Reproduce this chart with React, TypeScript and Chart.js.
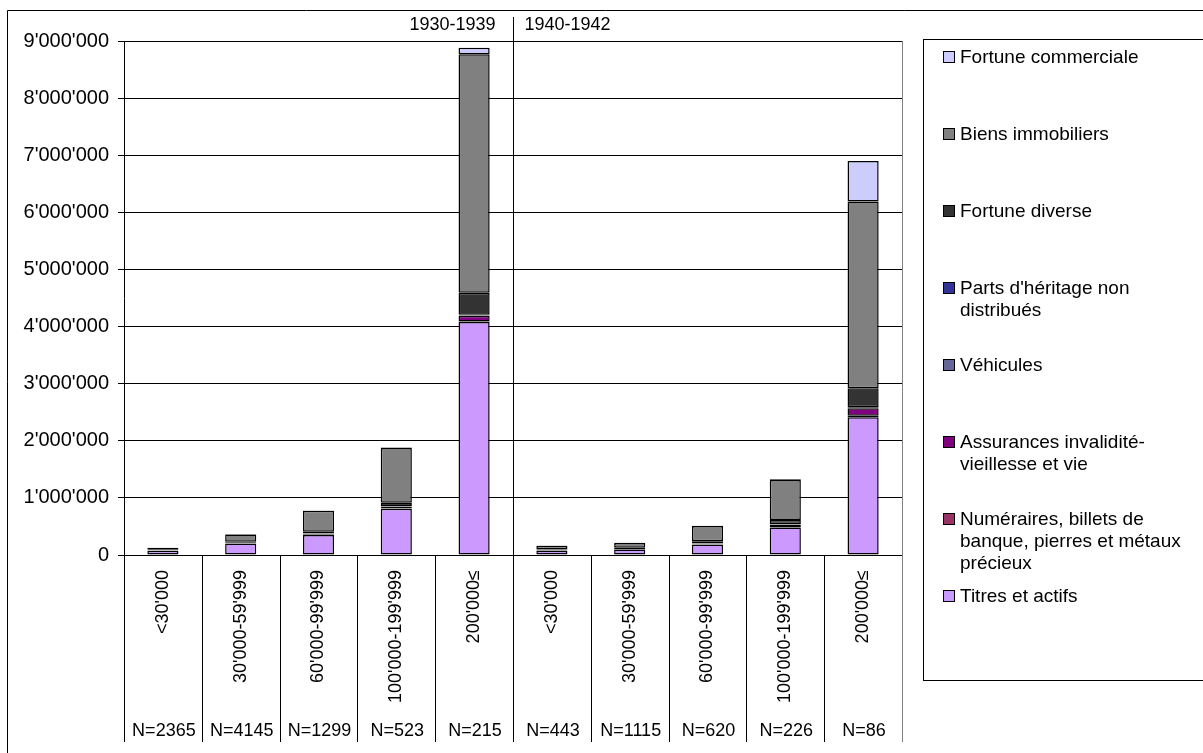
import React, { useEffect, useRef } from "react";
import { Chart, registerables } from "chart.js";

Chart.register(...registerables);

const CATEGORIES = [
  "<30'000", "30'000-59'999", "60'000-99'999", "100'000-199'999", "200'000≤",
  "<30'000", "30'000-59'999", "60'000-99'999", "100'000-199'999", "200'000≤",
];
const N_LABELS = ["N=2365", "N=4145", "N=1299", "N=523", "N=215", "N=443", "N=1115", "N=620", "N=226", "N=86"];
const PERIODS = ["1930-1939", "1940-1942"];
const Y_MAX = 9000000;
const Y_STEP = 1000000;

// stack order, bottom to top
const titres = [75000, 200000, 350000, 810000, 4080000, 80000, 95000, 185000, 480000, 2410000];
const numeraires = [3000, 5000, 8000, 10000, 10000, 3000, 3000, 5000, 10000, 30000];
const assurances = [3000, 8000, 15000, 30000, 100000, 2000, 5000, 8000, 45000, 130000];
const vehicules = [500, 1000, 2000, 3000, 5000, 500, 1000, 1000, 2000, 5000];
const parts = [1000, 2000, 3000, 5000, 10000, 1000, 1000, 2000, 3000, 10000];
const diverse = [10000, 15000, 30000, 55000, 385000, 10000, 20000, 40000, 75000, 335000];
const biens = [30000, 130000, 365000, 960000, 4180000, 65000, 85000, 265000, 700000, 3270000];
const commerciale = [3000, 5000, 5000, 10000, 110000, 5000, 5000, 5000, 10000, 710000];

const SERIES_NAMES = [
  "Titres et actifs",
  "Numéraires, billets de banque, pierres et métaux précieux",
  "Assurances invalidité-vieillesse et vie",
  "Véhicules",
  "Parts d'héritage non distribués",
  "Fortune diverse",
  "Biens immobiliers",
  "Fortune commerciale",
];
const SERIES_VALUES = [titres, numeraires, assurances, vehicules, parts, diverse, biens, commerciale];
const SERIES_COLORS = ["#CC99FF", "#993366", "#800080", "#666699", "#333399", "#333333", "#808080", "#CCCCFF"];

const FONT = "'Liberation Sans', Arial, sans-serif";
const W = 1203;
const H = 753;

const fmt = (v: number) => (v === 0 ? "0" : String(v).replace(/\B(?=(\d{3})+(?!\d))/g, "'"));

const decorPlugin = {
  id: "decor",
  afterDraw(chart: any) {
    const ctx = chart.ctx;
    const xs = chart.scales.x;
    const area = chart.chartArea;
    const n = CATEGORIES.length;
    const cw = (area.right - area.left) / n;
    const al = (v: number) => Math.round(v) + 0.5;
    ctx.save();
    ctx.lineWidth = 1;
    ctx.strokeStyle = "#000";
    // outer frame
    ctx.beginPath();
    ctx.moveTo(7.5, H);
    ctx.lineTo(7.5, 10.5);
    ctx.lineTo(W, 10.5);
    ctx.stroke();
    // category boundaries below axis
    ctx.beginPath();
    for (let i = 0; i < n; i++) {
      const x = al(xs.getPixelForValue(i) - cw / 2);
      ctx.moveTo(x, area.bottom);
      ctx.lineTo(x, 742);
    }
    ctx.stroke();
    // separator between periods
    const sep = al((xs.getPixelForValue(4) + xs.getPixelForValue(5)) / 2);
    ctx.beginPath();
    ctx.moveTo(sep, 17);
    ctx.lineTo(sep, 697);
    ctx.stroke();
    // right edge
    ctx.strokeStyle = "#808080";
    const rx = al(area.right);
    ctx.beginPath();
    ctx.moveTo(rx, area.top);
    ctx.lineTo(rx, 742);
    ctx.stroke();
    // texts
    ctx.fillStyle = "#000";
    ctx.font = `18px ${FONT}`;
    ctx.textBaseline = "middle";
    ctx.textAlign = "center";
    N_LABELS.forEach((t, i) => ctx.fillText(t, xs.getPixelForValue(i) + 1, 731));
    ctx.textAlign = "right";
    ctx.fillText(PERIODS[0], sep - 18, 25);
    ctx.textAlign = "left";
    ctx.fillText(PERIODS[1], sep + 11, 25);
    ctx.restore();
  },
};

export default function App() {
  const ref = useRef<HTMLCanvasElement>(null);
  useEffect(() => {
    if (!ref.current) return;
    Chart.defaults.font.family = FONT;
    Chart.defaults.font.size = 18;
    Chart.defaults.color = "#000";
    const chart = new Chart(ref.current, {
      type: "bar",
      data: {
        labels: CATEGORIES,
        datasets: SERIES_NAMES.map((name, i) => ({
          label: name,
          data: SERIES_VALUES[i],
          backgroundColor: SERIES_COLORS[i],
          borderColor: "#000",
          borderWidth: 1.5,
          borderSkipped: false,
          barPercentage: 0.4,
          categoryPercentage: 1,
        })),
      },
      options: {
        responsive: false,
        animation: false,
        devicePixelRatio: 1,
        layout: { padding: { left: 0, top: 41, right: W - 902, bottom: 0 } },
        plugins: { legend: { display: false }, tooltip: { enabled: false } },
        scales: {
          x: {
            stacked: true,
            grid: { display: false, drawTicks: false },
            border: { display: true, color: "#000", width: 1 },
            ticks: {
              autoSkip: false,
              minRotation: 90,
              maxRotation: 90,
              padding: 15,
              font: { size: 18, family: FONT },
              color: "#000",
            },
            afterFit: (s: any) => {
              s.height = H - 555;
            },
          },
          y: {
            stacked: true,
            min: 0,
            max: Y_MAX,
            grid: { color: "#000", lineWidth: 1, tickLength: 6, drawTicks: true },
            border: { display: true, color: "#000", width: 1 },
            ticks: {
              stepSize: Y_STEP,
              padding: 9,
              font: { size: 20, family: FONT },
              color: "#000",
              callback: (v: any) => fmt(Number(v)),
            },
            afterFit: (s: any) => {
              s.width = 124;
            },
          },
        },
      },
      plugins: [decorPlugin],
    });
    return () => chart.destroy();
  }, []);

  const legendItems = SERIES_NAMES.map((name, i) => ({ name, color: SERIES_COLORS[i] })).reverse();

  return (
    <div style={{ position: "fixed", left: 0, top: 0, width: W, height: H, overflow: "hidden", background: "#fff" }}>
      <canvas ref={ref} width={W} height={H} style={{ display: "block", width: W, height: H }} />
      <div
        style={{
          position: "absolute",
          left: 923,
          top: 39,
          width: 320,
          height: 642,
          border: "1px solid #000",
          boxSizing: "border-box",
          fontFamily: FONT,
          fontSize: 19,
          lineHeight: "21.8px",
          color: "#000",
        }}
      >
        {legendItems.map((it, i) => (
          <div key={it.name} style={{ position: "absolute", left: 19, top: 6 + i * 77, display: "flex", alignItems: "flex-start" }}>
            <span
              style={{
                width: 12,
                height: 12,
                marginTop: 5,
                marginRight: 5,
                boxSizing: "border-box",
                border: "1px solid #000",
                background: it.color,
                flexShrink: 0,
              }}
            />
            <span style={{ width: 228 }}>{it.name}</span>
          </div>
        ))}
      </div>
    </div>
  );
}
